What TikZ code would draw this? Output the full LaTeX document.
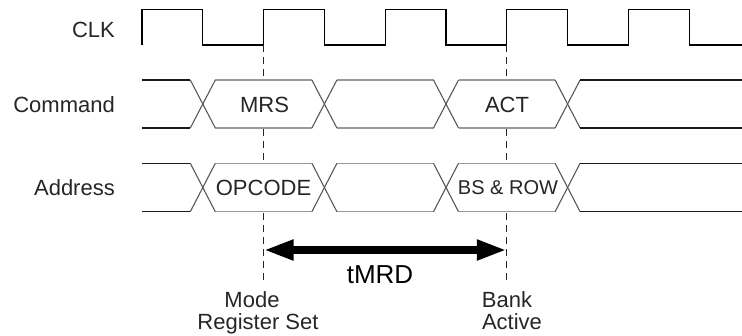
\documentclass[tikz,border=0pt]{standalone}
\usepackage{fontspec}
\setmainfont{Liberation Sans}
\usetikzlibrary{arrows.meta}
\tikzset{
  lbl/.style={inner sep=0pt, text=black!85, font=\fontsize{22}{22}\selectfont},
  clkline/.style={line width=1.2pt, black, line join=miter},
  outerline/.style={line width=1.1pt, black!90},
  hexline/.style={line width=1.1pt, black!40},
  diagline/.style={line width=1.1pt, black!65},
  dashline/.style={line width=1.1pt, black!85, dash pattern=on 7pt off 5pt},
  bigarrow/.style={line width=8pt, {Triangle[length=30pt,width=19pt]}-{Triangle[length=30pt,width=19pt]}}
}
\begin{document}
\begin{tikzpicture}[x=1pt,y=-1pt]
\useasboundingbox (0,0) rectangle (742,335);
% clock
\draw[clkline] (142,45) -- (142,9.5) -- (202.8,9.5) -- (202.8,45) -- (263.6,45)
  -- (263.6,9.5) -- (324.4,9.5) -- (324.4,45) -- (385.2,45)
  -- (385.2,9.5) -- (446,9.5) -- (446,45) -- (506.8,45)
  -- (506.8,9.5) -- (567.6,9.5) -- (567.6,45) -- (628.4,45)
  -- (628.4,9.5) -- (689.2,9.5) -- (689.2,45) -- (742,45);
% dashed reference lines
\coordinate (mrsTop) at (263.6,45);
\coordinate (mrsBot) at (263.6,283);
\coordinate (actTop) at (506.8,45);
\coordinate (actBot) at (506.8,283);
\draw[dashline] (mrsTop) -- (mrsBot);
\draw[dashline] (actTop) -- (actBot);
% bus rows
\foreach \T/\B in {80/128, 163.3/211.7}{
  \pgfmathsetmacro{\M}{(\T+\B)/2}
  \foreach \a/\b in {202.8/324.4, 324.4/446, 446/567.6}{
    \fill[white] (\a,\M) -- ({\a+12.5},\T) -- ({\b-12.5},\T) -- (\b,\M) -- ({\b-12.5},\B) -- ({\a+12.5},\B) -- cycle;
    \draw[hexline] ({\a+12.5},\T) -- ({\b-12.5},\T);
    \draw[hexline] ({\a+12.5},\B) -- ({\b-12.5},\B);
  }
  \foreach \f in {202.8, 324.4, 446, 567.6}{
    \draw[diagline] ({\f-12.5},\T) -- ({\f+12.5},\B);
    \draw[diagline] ({\f-12.5},\B) -- ({\f+12.5},\T);
  }
  \draw[outerline] (142,\T) -- (190.3,\T);
  \draw[outerline] (142,\B) -- (190.3,\B);
  \draw[outerline] (580.1,\T) -- (742,\T);
  \draw[outerline] (580.1,\B) -- (742,\B);
}
% row labels
\node[lbl, anchor=base east] (clk) at (115,37) {CLK};
\node[lbl, anchor=base east] (cmd) at (115,112) {Command};
\node[lbl, anchor=base east] (addr) at (115,195.5) {Address};
% bus contents
\node[lbl, anchor=base] (mrs) at (264.5,112) {MRS};
\node[lbl, anchor=base] (act) at (507,112) {ACT};
\node[lbl, anchor=base] (opc) at (263.5,195.5) {OPCODE};
\node[lbl, anchor=base, font=\fontsize{20}{20}\selectfont] (bsrow) at (508,194.7) {BS \& ROW};
% tMRD arrow
\coordinate (arrL) at (263.6,250);
\coordinate (arrR) at (506.8,250);
\draw[bigarrow] (arrL) -- (arrR);
\node[lbl, anchor=base, text=black, font=\fontsize{26}{26}\selectfont] (tmrd) at (380,283) {tMRD};
% event labels
\node[lbl, anchor=base] (mode) at (252,307.5) {Mode};
\node[lbl, anchor=base] (regset) at (258,329) {Register Set};
\node[lbl, anchor=base] (bank) at (507,307.5) {Bank};
\node[lbl, anchor=base] (active) at (512,329) {Active};
\end{tikzpicture}
\end{document}
